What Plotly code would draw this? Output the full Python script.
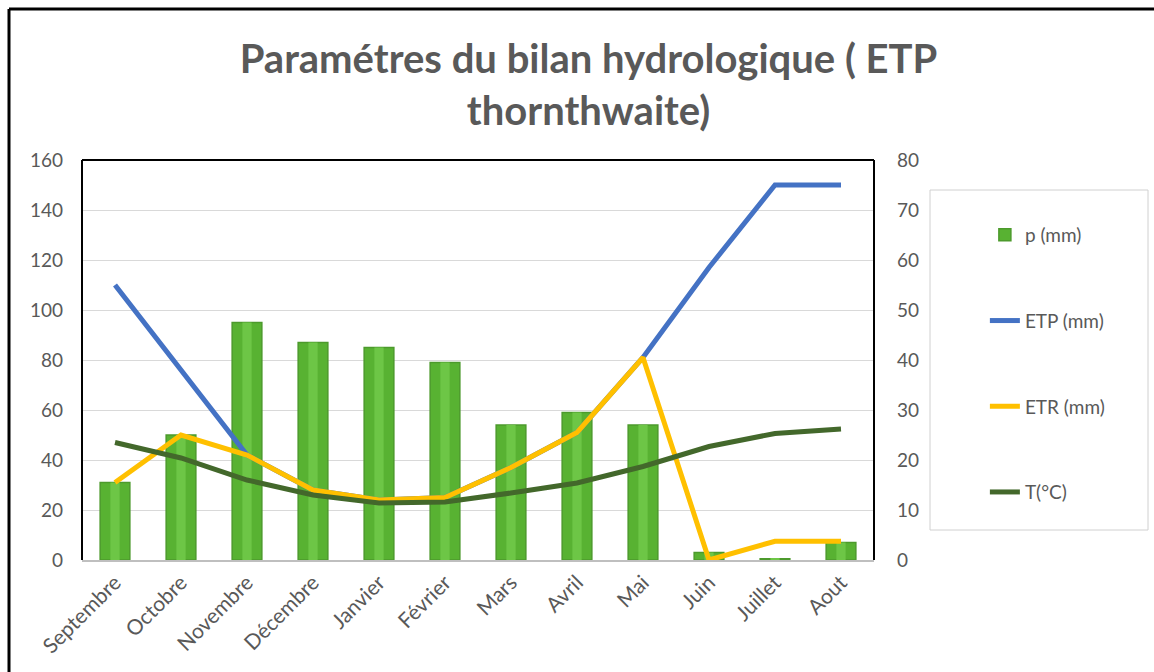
import plotly.graph_objects as go

# data
mois = ["Septembre", "Octobre", "Novembre", "Décembre", "Janvier", "Février",
        "Mars", "Avril", "Mai", "Juin", "Juillet", "Aout"]
p_mm = [31, 50, 95, 87, 85, 79, 54, 59, 54, 3, 0.5, 7]
etp_mm = [110, 76, 42, 28, 24, 25, 37, 51, 81, 117, 150, 150]
etr_mm = [31, 50, 42, 28, 24, 25, 37, 51, 81, 0, 7.5, 7.5]
temp_c = [23.5, 20.4, 16, 13, 11.4, 11.6, 13.4, 15.4, 18.7, 22.7, 25.3, 26.2]

gris = "#595959"
police = "Lato"

fig = go.Figure()
fig.add_trace(go.Bar(x=mois, y=p_mm, name="p (mm)", width=0.45,
                     marker=dict(color="#58B232", line=dict(color="#4C9A2C", width=1.5)),
                     legendgroup="a"))
# lighter centre stripe to hint at the cylinder look
fig.add_trace(go.Bar(x=mois, y=p_mm, width=0.14, showlegend=False, hoverinfo="skip",
                     marker=dict(color="#6DC646", line=dict(width=0)),
                     legendgroup="a"))
fig.add_trace(go.Scatter(x=mois, y=etp_mm, name="ETP (mm)", mode="lines",
                         line=dict(color="#4472C4", width=5), legendgroup="b"))
fig.add_trace(go.Scatter(x=mois, y=etr_mm, name="ETR (mm)", mode="lines",
                         line=dict(color="#FFC000", width=5), legendgroup="c"))
fig.add_trace(go.Scatter(x=mois, y=temp_c, name="T(°C)", mode="lines", yaxis="y2",
                         line=dict(color="#43682B", width=5), legendgroup="d"))

fig.update_layout(
    width=1154, height=672,
    margin=dict(l=82, r=280, t=160, b=112),
    paper_bgcolor="white", plot_bgcolor="white",
    font=dict(family=police, size=19, color=gris),
    title=dict(text="<b>Paramétres du bilan hydrologique ( ETP<br>thornthwaite)</b>",
               x=0.51, xanchor="center", xref="container",
               y=0.891, yanchor="middle", yref="container",
               font=dict(family=police, size=40, color=gris)),
    xaxis=dict(range=[-0.5, 11.5], tickangle=-45, showgrid=False, automargin=False,
               showline=True, linecolor="#bfbfbf", linewidth=2,
               ticks="", tickfont=dict(size=21)),
    yaxis=dict(range=[0, 160], dtick=20, showgrid=True, gridcolor="#d9d9d9",
               gridwidth=1, zeroline=False, ticks="", ticklabelstandoff=18,
               automargin=False),
    yaxis2=dict(range=[0, 80], dtick=10, overlaying="y", side="right",
                showgrid=False, zeroline=False, ticks="", ticklabelstandoff=22,
                automargin=False),
    legend=dict(x=1.14, y=0.86, xanchor="left", yanchor="top",
                traceorder="grouped", tracegroupgap=58,
                bgcolor="rgba(0,0,0,0)", font=dict(size=19, color=gris)),
    barmode="overlay",
    showlegend=True,
)

fig.update_layout(shapes=[
    # plot area frame (left, top, right in black)
    dict(type="line", xref="paper", yref="paper", x0=0, x1=0, y0=0, y1=1,
         line=dict(color="black", width=2)),
    dict(type="line", xref="paper", yref="paper", x0=0, x1=1, y0=1, y1=1,
         line=dict(color="black", width=2)),
    dict(type="line", xref="paper", yref="paper", x0=1, x1=1, y0=0, y1=1,
         line=dict(color="black", width=2)),
    # legend box
    dict(type="rect", xref="paper", yref="paper",
         x0=(930 - 82) / 792, x1=(1148 - 82) / 792,
         y0=(560 - 530) / 400, y1=(560 - 190) / 400,
         line=dict(color="#d0d0d0", width=1)),
    # outer frame of the picture
    dict(type="line", xref="paper", yref="paper",
         x0=(9 - 82) / 792, x1=(9 - 82) / 792, y0=-0.3, y1=(560 - 9) / 400,
         line=dict(color="black", width=3)),
    dict(type="line", xref="paper", yref="paper",
         x0=(9 - 82) / 792, x1=(1154 - 82) / 792, y0=(560 - 9) / 400, y1=(560 - 9) / 400,
         line=dict(color="black", width=3)),
])

# drop the default page margin so the figure fills the window exactly
fig.write_html("out.html", config={"displayModeBar": False},
               post_script="document.body.style.margin='0';"
                           "document.body.style.overflow='hidden';")
